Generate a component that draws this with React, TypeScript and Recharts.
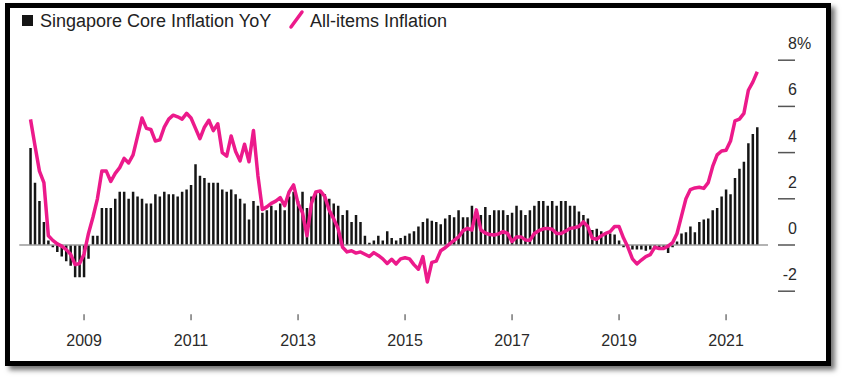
import React from 'react';
import { ComposedChart, Bar, Line, XAxis, YAxis, ReferenceLine } from 'recharts';

// monthly series, first point = Jan 2008
const START_YEAR = 2008;

const coreInflation = [
  4.2, 2.7, 1.9, 1.0, 0.2, -0.1, -0.3, -0.5, -0.7, -0.9, -1.4, -1.4,
  -1.4, -0.6, 0.4, 0.4, 1.6, 1.6, 1.6, 2.0, 2.3, 2.3, 2.0, 2.3,
  2.1, 2.0, 1.8, 1.8, 2.2, 2.1, 2.3, 2.2, 2.2, 2.1, 2.3, 2.4,
  2.6, 3.5, 3.0, 2.9, 2.7, 2.7, 2.7, 2.4, 2.3, 2.4, 2.2, 2.0,
  1.8, 1.1, 1.9, 1.7, 1.4, 1.5, 1.7, 1.5, 1.8, 1.5, 2.1, 2.3,
  1.9, 2.3, 1.6, 2.1, 2.3, 2.3, 2.2, 2.0, 1.8, 1.7, 1.3, 1.5,
  1.0, 1.3, 1.0, 0.4, 0.1, 0.2, 0.4, 0.2, 0.6, 0.3, 0.2, 0.3,
  0.4, 0.5, 0.6, 0.8, 1.0, 1.15, 1.05, 1.0, 0.9, 1.15, 1.3, 1.2,
  1.5, 1.2, 1.2, 1.7, 1.5, 1.3, 1.65, 1.3, 1.5, 1.5, 1.5, 1.3,
  1.4, 1.7, 1.5, 1.3, 1.5, 1.7, 1.9, 1.9, 1.7, 1.9, 1.7, 1.9,
  1.9, 1.7, 1.7, 1.45, 1.3, 1.15, 0.65, 0.7, 0.6, 0.55, 0.5, 0.45,
  0.2, -0.1, -0.05, -0.2, -0.2, -0.2, -0.25, -0.2, -0.1, -0.12, -0.12, -0.35,
  -0.1, 0.15, 0.5, 0.55, 0.8, 0.55, 1.0, 1.1, 1.15, 1.5, 1.6, 2.1,
  2.4, 2.2, 2.9, 3.3, 3.6, 4.4, 4.8, 5.1,
];

const allItemsInflation = [
  5.44, 4.3, 3.2, 2.7, 0.4, 0.2, 0.05, -0.05, -0.2, -0.4, -0.85, -0.8,
  -0.4, 0.5, 1.2, 2.0, 3.2, 3.2, 2.75, 3.1, 3.35, 3.75, 3.55, 3.9,
  4.7, 5.5, 5.05, 5.0, 4.5, 4.55, 5.1, 5.45, 5.62, 5.55, 5.45, 5.7,
  5.5, 5.05, 4.6, 5.1, 5.4, 4.95, 5.25, 4.0, 3.85, 4.72, 4.05, 3.64,
  4.36, 3.6, 4.96, 3.0, 1.54, 1.65, 1.8, 1.9, 2.05, 1.7, 2.3, 2.6,
  1.8, 1.4, 0.4, 1.8, 2.3, 2.34, 2.1, 1.5, 1.13, 0.7, -0.1, -0.3,
  -0.25, -0.35, -0.3, -0.4, -0.5, -0.33, -0.45, -0.6, -0.8, -0.62, -0.82, -0.6,
  -0.55, -0.6, -0.85, -1.05, -0.5, -1.6, -0.75, -0.7, -0.25, -0.12, 0.05, 0.2,
  0.35, 0.62, 0.72, 0.65, 1.52, 0.65, 0.52, 0.45, 0.43, 0.48, 0.58, 0.5,
  0.15, 0.35, 0.35, 0.22, 0.2, 0.5, 0.62, 0.7, 0.72, 0.68, 0.5, 0.5,
  0.6, 0.72, 0.75, 0.8, 1.0, 0.8, 0.29, 0.25, 0.4, 0.5, 0.58, 0.8,
  0.8, 0.3, -0.1, -0.6, -0.82, -0.65, -0.5, -0.42, -0.1, -0.15, -0.15, -0.05,
  0.1, 0.5, 1.25, 2.0, 2.4, 2.47, 2.5, 2.45, 2.7, 3.4, 3.9, 4.07,
  4.1, 4.5, 5.37, 5.45, 5.7, 6.7, 7.05, 7.5,
];

const yearLabels = ['2009', '2011', '2013', '2015', '2017', '2019', '2021'];
const yTicks = [-2, 0, 2, 4, 6, 8];

const months = coreInflation.map(
  (_, i) => `${START_YEAR + Math.floor(i / 12)}-${String((i % 12) + 1).padStart(2, '0')}`
);
const data = months.map((m, i) => ({ month: m, core: coreInflation[i], allItems: allItemsInflation[i] }));

const FONT = '"Liberation Sans", Arial, sans-serif';
const PINK = '#ec1a8b';

const RightTick = (props: any) => {
  const { x, y, payload } = props;
  return (
    <g>
      <line x1={x + 10} x2={x + 27} y1={y} y2={y} stroke="#555" strokeWidth={1.5} />
      <text x={x + 29} y={y - 11} textAnchor="end" fontSize={16} fontFamily={FONT} fill="#2a2a2a">
        {payload.value}
      </text>
      {payload.value === 8 && (
        <text x={x + 29} y={y - 11} textAnchor="start" fontSize={16} fontFamily={FONT} fill="#2a2a2a">
          %
        </text>
      )}
    </g>
  );
};

export default function App() {
  return (
    <div style={{ position: 'absolute', left: 0, top: 0, width: 842, height: 378, background: '#fff' }}>
      <ComposedChart
        width={842}
        height={378}
        data={data}
        margin={{ top: 37.1, right: 14, left: 19.3, bottom: 23.7 }}
        barCategoryGap={0}
      >
        <XAxis
          dataKey="month"
          ticks={yearLabels.map((y) => `${y}-01`)}
          interval={0}
          tickFormatter={(v: string) => v.slice(0, 4)}
          axisLine={false}
          tickLine={{ stroke: '#555', strokeWidth: 1.2 }}
          tickSize={6}
          tickMargin={14}
          height={40}
          padding={{ left: 9, right: 8.5 }}
          tick={{ fontSize: 16, fontFamily: FONT, fill: '#2a2a2a' }}
        />
        <YAxis
          orientation="right"
          type="number"
          domain={[-3, 9]}
          ticks={yTicks}
          allowDataOverflow
          axisLine={false}
          tickLine={false}
          tickSize={0}
          tickMargin={0}
          width={60}
          tick={<RightTick />}
        />
        <Bar dataKey="core" fill="#151515" barSize={2.5} isAnimationActive={false} />
        <ReferenceLine y={0} stroke="#9a9a9a" strokeWidth={1.5} />
        <Line
          type="linear"
          dataKey="allItems"
          stroke={PINK}
          strokeWidth={3.5}
          strokeLinejoin="round"
          dot={false}
          activeDot={false}
          isAnimationActive={false}
        />
      </ComposedChart>

      <svg width={842} height={378} style={{ position: 'absolute', left: 0, top: 0, pointerEvents: 'none' }}>
        <rect x={22} y={15} width={11} height={11} fill="#151515" />
        <text x={40} y={27} fontSize={18} fontFamily={FONT} fill="#222">
          Singapore Core Inflation YoY
        </text>
        <line x1={291} y1={27} x2={302} y2={12} stroke={PINK} strokeWidth={3.5} strokeLinecap="round" />
        <text x={310} y={27} fontSize={18} fontFamily={FONT} fill="#222">
          All-items Inflation
        </text>
      </svg>

      <div
        style={{
          position: 'absolute',
          left: 5,
          top: 3,
          width: 826,
          height: 363,
          boxSizing: 'border-box',
          border: '5px solid #000',
          boxShadow: '4px 4px 5px rgba(0,0,0,0.55)',
          pointerEvents: 'none',
        }}
      />
    </div>
  );
}
